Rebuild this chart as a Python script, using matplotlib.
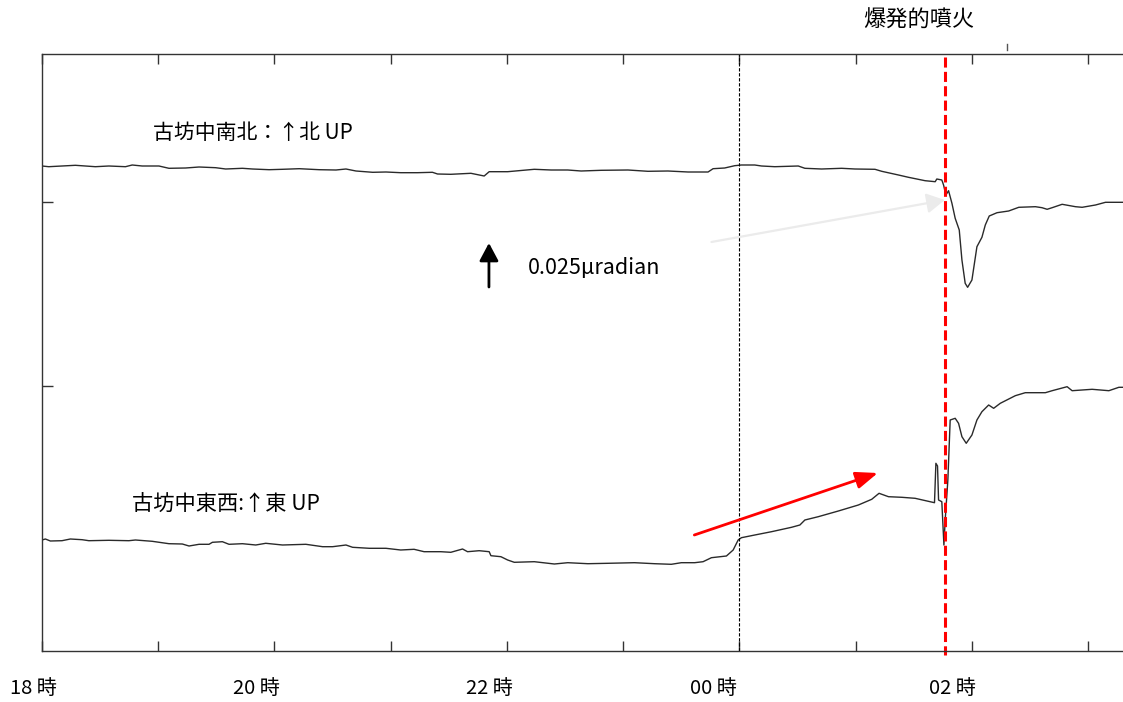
import matplotlib
matplotlib.use("Agg")
import matplotlib.pyplot as plt

plt.rcParams['font.family'] = ['Noto Sans CJK JP', 'DejaVu Sans']

# ---- data (time in hours since 18:00 of day 1, values in arbitrary tilt units) ----
ns_time = [18.000, 18.058, 18.172, 18.287, 18.459, 18.575, 18.718, 18.776, 18.862, 19.006,
           19.092, 19.235, 19.351, 19.494, 19.580, 19.724, 19.810, 19.954, 20.069, 20.213,
           20.385, 20.529, 20.615, 20.701, 20.845, 20.959, 21.086, 21.230, 21.359, 21.403,
           21.517, 21.690, 21.804, 21.847, 22.006, 22.235, 22.379, 22.523, 22.638, 22.810,
           23.041, 23.213, 23.385, 23.558, 23.730, 23.773, 23.873, 23.959, 24.017, 24.132,
           24.190, 24.304, 24.506, 24.563, 24.707, 24.879, 24.994, 25.166, 25.224, 25.368,
           25.454, 25.597, 25.684, 25.698, 25.741, 25.756, 25.776, 25.799, 25.828, 25.856,
           25.891, 25.914, 25.942, 25.963, 26.000, 26.043, 26.086, 26.115, 26.149, 26.216,
           26.316, 26.403, 26.546, 26.603, 26.647, 26.690, 26.776, 26.891, 26.948, 27.063,
           27.149, 27.319]
ns_value = [48.50, 48.43, 48.50, 48.57, 48.43, 48.50, 48.43, 48.60, 48.50, 48.50,
            48.27, 48.30, 48.40, 48.33, 48.20, 48.27, 48.20, 48.13, 48.17, 48.23,
            48.13, 48.10, 48.20, 48.00, 47.87, 47.90, 47.83, 47.83, 47.87, 47.70,
            47.67, 47.77, 47.50, 47.93, 47.93, 48.17, 48.10, 48.10, 48.00, 48.07,
            48.10, 47.97, 48.00, 47.90, 47.90, 48.23, 48.30, 48.53, 48.60, 48.60,
            48.50, 48.43, 48.50, 48.27, 48.20, 48.27, 48.20, 48.17, 47.97, 47.60,
            47.37, 47.03, 46.93, 47.20, 47.10, 46.60, 45.60, 46.03, 44.77, 43.27,
            42.10, 39.10, 36.77, 36.37, 37.10, 40.43, 41.37, 42.60, 43.50, 43.83,
            44.00, 44.37, 44.43, 44.33, 44.17, 44.33, 44.67, 44.43, 44.37, 44.60,
            44.87, 44.87]

ew_time = [18.000, 18.029, 18.072, 18.172, 18.244, 18.345, 18.403, 18.575, 18.747, 18.804,
           18.948, 19.092, 19.207, 19.265, 19.351, 19.437, 19.466, 19.552, 19.609, 19.724,
           19.839, 19.925, 20.069, 20.270, 20.414, 20.500, 20.615, 20.672, 20.816, 20.959,
           21.086, 21.201, 21.287, 21.431, 21.517, 21.618, 21.661, 21.761, 21.847, 21.862,
           21.948, 22.006, 22.063, 22.235, 22.408, 22.523, 22.696, 22.868, 23.097, 23.270,
           23.414, 23.500, 23.615, 23.687, 23.759, 23.888, 23.946, 23.989, 24.017, 24.132,
           24.276, 24.448, 24.520, 24.563, 24.678, 24.851, 25.023, 25.138, 25.201, 25.282,
           25.397, 25.511, 25.678, 25.690, 25.704, 25.713, 25.741, 25.759, 25.770, 25.793,
           25.813, 25.856, 25.885, 25.914, 25.951, 26.000, 26.043, 26.086, 26.144, 26.187,
           26.244, 26.373, 26.459, 26.632, 26.690, 26.819, 26.862, 27.034, 27.178, 27.264,
           27.319]
ew_value = [11.10, 11.20, 11.00, 11.03, 11.20, 11.13, 11.03, 11.07, 11.03, 11.10,
            10.97, 10.73, 10.70, 10.50, 10.67, 10.67, 10.87, 10.93, 10.67, 10.73,
            10.60, 10.77, 10.60, 10.67, 10.43, 10.43, 10.60, 10.37, 10.27, 10.27,
            10.10, 10.17, 9.93, 9.93, 9.87, 10.20, 9.93, 10.03, 9.93, 9.53,
            9.43, 9.10, 8.87, 8.93, 8.70, 8.83, 8.73, 8.77, 8.83, 8.73,
            8.67, 8.83, 8.83, 8.93, 9.33, 9.50, 10.10, 11.10, 11.33, 11.60,
            11.93, 12.37, 12.60, 13.10, 13.43, 14.00, 14.60, 15.17, 15.77, 15.43,
            15.37, 15.27, 14.83, 18.77, 18.50, 15.10, 14.93, 10.60, 13.10, 17.10,
            23.10, 23.27, 22.77, 21.43, 20.77, 21.60, 23.10, 23.93, 24.60, 24.27,
            24.77, 25.53, 25.83, 25.83, 26.03, 26.43, 26.03, 26.17, 26.03, 26.37,
            26.37]

hour_ticks = [18, 19, 20, 21, 22, 23, 24, 25, 26, 27]
hour_labels = ["18 時", "20 時", "22 時", "00 時", "02 時"]
hour_label_pos = [18, 20, 22, 24, 26]
y_ticks = [26.5, 44.9]

midnight = 24.0
eruption = 25.767

ns_label = "古坊中南北：↑北 UP"
ew_label = "古坊中東西:↑東 UP"
scale_label = "0.025μradian"
event_label = "爆発的噴火"

# ---- figure ----
W, H = 1123, 702
fig = plt.figure(figsize=(W / 100, H / 100), dpi=100)
ax = fig.add_axes([42 / W, 51 / H, (W - 42) / W + 0.002, 597 / H])
ax.set_xlim(18, 27.319)
ax.set_ylim(0, 59.7)

ax.plot(ns_time, ns_value, color='#2a2a2a', lw=1.0)
ax.plot(ew_time, ew_value, color='#2a2a2a', lw=1.0)

ax.axvline(midnight, color='black', lw=0.8, linestyle=(0, (3, 1.5)))
ax.plot([eruption, eruption], [59.4, -0.4], color='#ff0000', lw=2.2,
        linestyle=(0, (3.3, 1.4)), clip_on=False)

for s in ['top', 'bottom', 'left']:
    ax.spines[s].set_color('#333333')
    ax.spines[s].set_linewidth(1.0)
ax.spines['right'].set_visible(False)

ax.set_xticks(hour_ticks)
ax.set_xticklabels([])
ax.set_yticks(y_ticks)
ax.set_yticklabels([])
ax.tick_params(axis='x', direction='in', length=7, width=1, color='#333333',
               top=True, bottom=True)
ax.tick_params(axis='y', direction='in', length=8, width=1, color='#333333',
               left=True, right=False)

label_offsets_px = [-9, -18, -18, -26, -19]
for pos, lab, off in zip(hour_label_pos, hour_labels, label_offsets_px):
    ax.annotate(lab, xy=(pos, 0), xycoords=('data', 'axes fraction'),
                xytext=(off * 0.72, -37 * 0.72), textcoords='offset points',
                ha='center', va='center', fontsize=14.5, color='black')

# small mark above the frame
ax.plot([26.30, 26.30], [60.1, 60.7], color='#555555', lw=1.0, clip_on=False)

# texts
ax.text(18.957, 51.8, ns_label, fontsize=15, ha='left', va='center')
ax.text(18.776, 14.6, ew_label, fontsize=15.3, ha='left', va='center')
ax.text(22.181, 38.3, scale_label, fontsize=15.5, ha='left', va='center')
ax.text(25.543, 63.1, event_label, fontsize=16, ha='center', va='center', clip_on=False)

# arrows
ax.annotate('', xy=(25.767, 45.1), xytext=(23.759, 40.9),
            arrowprops=dict(arrowstyle='-|>,head_length=1.0,head_width=0.55',
                            mutation_scale=11, color='#ebebeb', lw=1.6,
                            shrinkA=0, shrinkB=0))
ax.annotate('', xy=(25.190, 17.8), xytext=(23.612, 11.6),
            arrowprops=dict(arrowstyle='-|>,head_length=0.95,head_width=0.37',
                            mutation_scale=14, color='#ff0000', lw=2.0,
                            shrinkA=0, shrinkB=0))
ax.annotate('', xy=(21.845, 40.8), xytext=(21.845, 36.4),
            arrowprops=dict(arrowstyle='-|>,head_length=0.9,head_width=0.48',
                            mutation_scale=12, color='black', lw=2.0,
                            shrinkA=0, shrinkB=0))

fig.savefig('out.png', dpi=100, facecolor='white')
